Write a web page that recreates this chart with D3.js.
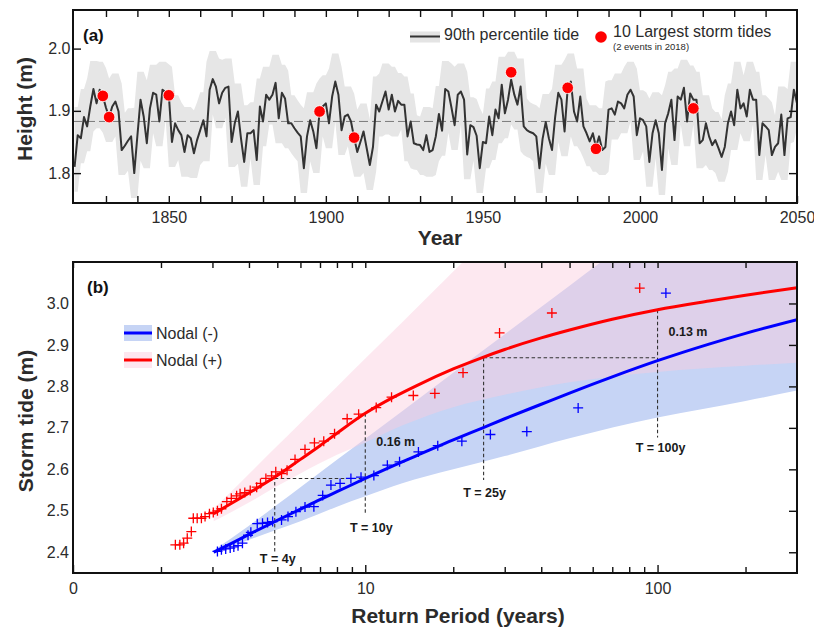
<!DOCTYPE html>
<html>
<head>
<meta charset="utf-8">
<script src="https://cdn.jsdelivr.net/npm/d3@7"></script>
<style>
  body { margin: 0; background: #fff; }
  svg { display: block; font-family: "Liberation Sans", Arial, sans-serif; }
</style>
</head>
<body>
<svg id="chart" width="814" height="629"></svg>
<script>
// ---------- panel (a): 90th percentile tide, one value per year from 1820 to 2050
const tideFirstYear = 1820;
const tide90 = [
  1.810, 1.861, 1.856, 1.890, 1.875, 1.907, 1.935, 1.912, 1.934, 1.924,
  1.905, 1.890, 1.907, 1.915, 1.899, 1.837, 1.844, 1.852, 1.859, 1.800,
  1.860, 1.918, 1.891, 1.848, 1.904, 1.929, 1.926, 1.883, 1.934, 1.930,
  1.926, 1.850, 1.880, 1.869, 1.861, 1.834, 1.861, 1.856, 1.832, 1.853,
  1.869, 1.885, 1.859, 1.934, 1.951, 1.939, 1.912, 1.929, 1.937, 1.939,
  1.850, 1.880, 1.899, 1.855, 1.818, 1.864, 1.864, 1.869, 1.821, 1.907,
  1.883, 1.926, 1.918, 1.926, 1.945, 1.888, 1.929, 1.920, 1.880, 1.880,
  1.872, 1.865, 1.859, 1.808, 1.859, 1.885, 1.867, 1.840, 1.899, 1.907,
  1.912, 1.880, 1.923, 1.947, 1.926, 1.869, 1.891, 1.894, 1.883, 1.857,
  1.834, 1.850, 1.867, 1.840, 1.813, 1.842, 1.910, 1.899, 1.915, 1.931,
  1.902, 1.926, 1.899, 1.916, 1.910, 1.910, 1.859, 1.883, 1.848, 1.846,
  1.845, 1.837, 1.861, 1.834, 1.837, 1.859, 1.895, 1.868, 1.935, 1.931,
  1.905, 1.877, 1.926, 1.931, 1.918, 1.830, 1.877, 1.874, 1.860, 1.808,
  1.850, 1.848, 1.891, 1.861, 1.902, 1.888, 1.942, 1.896, 1.918, 1.950,
  1.926, 1.910, 1.939, 1.875, 1.869, 1.866, 1.864, 1.859, 1.808, 1.855,
  1.882, 1.856, 1.837, 1.890, 1.929, 1.918, 1.867, 1.937, 1.947, 1.899,
  1.883, 1.923, 1.875, 1.864, 1.851, 1.864, 1.842, 1.859, 1.837, 1.842,
  1.902, 1.904, 1.894, 1.915, 1.912, 1.904, 1.926, 1.934, 1.923, 1.861,
  1.888, 1.885, 1.875, 1.818, 1.864, 1.885, 1.864, 1.805, 1.880, 1.896,
  1.918, 1.853, 1.923, 1.918, 1.937, 1.883, 1.928, 1.918, 1.918, 1.848,
  1.853, 1.880, 1.859, 1.845, 1.853, 1.840, 1.826, 1.842, 1.880, 1.899,
  1.877, 1.934, 1.904, 1.912, 1.891, 1.934, 1.918, 1.918, 1.829, 1.880,
  1.875, 1.869, 1.829, 1.842, 1.848, 1.894, 1.829, 1.888, 1.890, 1.934,
  1.912
];
// grey envelope around the tide line
const tideUpper = [
  1.906, 1.906, 1.935, 1.935, 1.952, 1.980, 1.980, 1.980, 1.979, 1.979,
  1.969, 1.952, 1.960, 1.960, 1.960, 1.944, 1.897, 1.904, 1.904, 1.905,
  1.963, 1.963, 1.963, 1.949, 1.974, 1.974, 1.974, 1.979, 1.979, 1.979,
  1.975, 1.971, 1.925, 1.925, 1.914, 1.906, 1.906, 1.906, 1.901, 1.914,
  1.930, 1.930, 1.979, 1.996, 1.996, 1.996, 1.984, 1.982, 1.984, 1.984,
  1.984, 1.944, 1.944, 1.944, 1.909, 1.909, 1.914, 1.914, 1.952, 1.952,
  1.971, 1.971, 1.971, 1.990, 1.990, 1.990, 1.974, 1.974, 1.965, 1.925,
  1.925, 1.917, 1.910, 1.904, 1.930, 1.930, 1.930, 1.944, 1.952, 1.957,
  1.957, 1.968, 1.992, 1.992, 1.992, 1.971, 1.939, 1.939, 1.939, 1.928,
  1.902, 1.912, 1.912, 1.912, 1.887, 1.955, 1.955, 1.960, 1.976, 1.976,
  1.976, 1.971, 1.971, 1.961, 1.961, 1.955, 1.955, 1.928, 1.928, 1.893,
  1.891, 1.906, 1.906, 1.906, 1.904, 1.940, 1.940, 1.980, 1.980, 1.980,
  1.976, 1.971, 1.976, 1.976, 1.976, 1.963, 1.922, 1.922, 1.919, 1.905,
  1.895, 1.936, 1.936, 1.947, 1.947, 1.987, 1.987, 1.987, 1.995, 1.995,
  1.995, 1.984, 1.984, 1.984, 1.920, 1.914, 1.911, 1.909, 1.904, 1.927,
  1.927, 1.927, 1.935, 1.974, 1.974, 1.974, 1.982, 1.992, 1.992, 1.992,
  1.968, 1.968, 1.968, 1.920, 1.909, 1.909, 1.909, 1.904, 1.904, 1.947,
  1.949, 1.949, 1.960, 1.960, 1.960, 1.971, 1.979, 1.979, 1.979, 1.968,
  1.933, 1.933, 1.930, 1.920, 1.930, 1.930, 1.930, 1.925, 1.941, 1.963,
  1.963, 1.968, 1.968, 1.982, 1.982, 1.982, 1.973, 1.973, 1.963, 1.963,
  1.925, 1.925, 1.925, 1.904, 1.898, 1.898, 1.887, 1.925, 1.944, 1.944,
  1.979, 1.979, 1.979, 1.957, 1.979, 1.979, 1.979, 1.963, 1.963, 1.925,
  1.925, 1.920, 1.914, 1.893, 1.939, 1.939, 1.939, 1.935, 1.979, 1.979,
  1.979
];
const tideLower = [
  1.770, 1.770, 1.816, 1.816, 1.835, 1.835, 1.867, 1.872, 1.872, 1.865,
  1.850, 1.850, 1.850, 1.859, 1.797, 1.797, 1.797, 1.804, 1.760, 1.760,
  1.760, 1.820, 1.808, 1.808, 1.808, 1.864, 1.843, 1.843, 1.843, 1.886,
  1.810, 1.810, 1.810, 1.821, 1.794, 1.794, 1.794, 1.792, 1.792, 1.792,
  1.813, 1.819, 1.819, 1.819, 1.894, 1.872, 1.872, 1.872, 1.889, 1.810,
  1.810, 1.810, 1.815, 1.778, 1.778, 1.778, 1.824, 1.781, 1.781, 1.781,
  1.843, 1.843, 1.878, 1.878, 1.848, 1.848, 1.848, 1.840, 1.840, 1.832,
  1.825, 1.819, 1.768, 1.768, 1.768, 1.819, 1.800, 1.800, 1.800, 1.859,
  1.840, 1.840, 1.840, 1.883, 1.829, 1.829, 1.829, 1.843, 1.817, 1.794,
  1.794, 1.794, 1.800, 1.773, 1.773, 1.773, 1.802, 1.859, 1.859, 1.862,
  1.862, 1.859, 1.859, 1.859, 1.870, 1.819, 1.819, 1.808, 1.806, 1.805,
  1.797, 1.797, 1.794, 1.794, 1.794, 1.797, 1.819, 1.828, 1.828, 1.865,
  1.837, 1.837, 1.837, 1.878, 1.790, 1.790, 1.790, 1.820, 1.768, 1.768,
  1.768, 1.808, 1.808, 1.821, 1.821, 1.848, 1.848, 1.856, 1.856, 1.878,
  1.870, 1.870, 1.835, 1.829, 1.826, 1.824, 1.819, 1.768, 1.768, 1.768,
  1.815, 1.797, 1.797, 1.797, 1.850, 1.827, 1.827, 1.827, 1.859, 1.843,
  1.843, 1.835, 1.824, 1.811, 1.811, 1.802, 1.802, 1.797, 1.797, 1.797,
  1.802, 1.854, 1.854, 1.854, 1.864, 1.864, 1.864, 1.883, 1.821, 1.821,
  1.821, 1.835, 1.778, 1.778, 1.778, 1.824, 1.765, 1.765, 1.765, 1.840,
  1.813, 1.813, 1.813, 1.878, 1.843, 1.843, 1.843, 1.878, 1.808, 1.808,
  1.808, 1.813, 1.805, 1.805, 1.800, 1.786, 1.786, 1.786, 1.802, 1.837,
  1.837, 1.837, 1.864, 1.851, 1.851, 1.851, 1.878, 1.789, 1.789, 1.789,
  1.829, 1.789, 1.789, 1.789, 1.802, 1.789, 1.789, 1.789, 1.848, 1.850,
  1.872
];
const tideMean = 1.883;
const stormYears = [1829, 1831, 1850, 1898, 1909, 1959, 1977, 1986, 2017];
const stormHeights = [1.924, 1.890, 1.925, 1.899, 1.857, 1.962, 1.937, 1.839, 1.904];
const yearTicks = [1850, 1900, 1950, 2000, 2050];
const yearMinorTicks = [1830, 1840, 1850, 1860, 1870, 1880, 1890, 1900, 1910, 1920, 1930,
  1940, 1950, 1960, 1970, 1980, 1990, 2000, 2010, 2020, 2030, 2040];
const heightTicks = [1.8, 1.9, 2.0];

// ---------- panel (b): return periods
const fitPeriods = [3.03, 3.5, 4, 5, 6, 7, 8, 10, 12.5, 15, 20, 25, 30, 40, 50, 70, 100, 150, 200, 300];
const fitPlus = [2.493, 2.519, 2.543, 2.585, 2.624, 2.657, 2.687, 2.735, 2.774, 2.802, 2.842, 2.869,
  2.889, 2.917, 2.936, 2.962, 2.985, 3.006, 3.020, 3.038];
const fitMinus = [2.400, 2.422, 2.443, 2.477, 2.504, 2.527, 2.546, 2.578, 2.609, 2.633, 2.671, 2.699,
  2.722, 2.757, 2.784, 2.823, 2.862, 2.902, 2.928, 2.961];

const bandPeriods = [3.03, 4, 5, 6, 8, 10, 13.3, 20, 30, 50, 100, 200, 300];
const plusHigh = [2.505, 2.589, 2.657, 2.712, 2.799, 2.867, 2.953, 3.077, 3.20, 3.36, 3.57, 3.78, 3.90];
const plusLow = [2.475, 2.520, 2.560, 2.590, 2.635, 2.665, 2.705, 2.750, 2.780, 2.810, 2.835, 2.850, 2.857];
const minusHigh = [2.405, 2.464, 2.515, 2.557, 2.623, 2.674, 2.739, 2.833, 2.926, 3.043, 3.202, 3.36, 3.45];
const minusLow = [2.397, 2.430, 2.455, 2.475, 2.510, 2.535, 2.566, 2.600, 2.632, 2.675, 2.725, 2.765, 2.790];

const plusPeriods = [2.24, 2.32, 2.39, 2.46, 2.54, 2.58, 2.66, 2.75, 2.83, 2.93, 3.02, 3.12, 3.22, 3.36,
  3.48, 3.63, 3.73, 3.87, 4.04, 4.25, 4.38, 4.57, 4.78, 4.94, 5.17, 5.40, 5.75, 6.22, 6.70, 7.21, 7.85,
  8.67, 9.49, 10.9, 12.3, 14.6, 17.3, 21.6, 28.8, 43.5, 86.9];
const plusTides = [2.418, 2.418, 2.422, 2.434, 2.450, 2.482, 2.482, 2.482, 2.486, 2.493, 2.496, 2.500,
  2.505, 2.522, 2.530, 2.536, 2.541, 2.544, 2.549, 2.557, 2.566, 2.578, 2.584, 2.594, 2.590, 2.598,
  2.624, 2.648, 2.664, 2.668, 2.686, 2.722, 2.733, 2.749, 2.774, 2.778, 2.783, 2.833, 2.929, 2.977, 3.037];
const minusPeriods = [3.12, 3.22, 3.33, 3.45, 3.55, 3.67, 3.80, 3.97, 4.06, 4.27, 4.45, 4.63, 4.82, 5.17,
  5.44, 5.79, 6.22, 6.67, 7.15, 7.63, 8.20, 8.93, 9.67, 10.7, 11.9, 13.1, 15.2, 17.7, 21.4, 26.8, 35.7,
  53.5, 106.8];
const minusTides = [2.402, 2.406, 2.408, 2.410, 2.413, 2.416, 2.422, 2.441, 2.448, 2.469, 2.470, 2.472,
  2.474, 2.478, 2.486, 2.498, 2.509, 2.510, 2.537, 2.562, 2.566, 2.578, 2.581, 2.585, 2.610, 2.618,
  2.642, 2.657, 2.668, 2.684, 2.691, 2.748, 3.025];

const periodTicks = [1, 10, 100];
const periodTickLabels = ["0", "10", "100"];
const periodMinorTicks = [2, 3, 4, 5, 6, 7, 8, 9, 20, 30, 40, 50, 60, 70, 80, 90, 200];
const stormTideTicks = [2.4, 2.5, 2.6, 2.7, 2.8, 2.9, 3.0];

// dashed guides: [T1, v1, T2, v2]
const guides = [
  [4.9, 2.402, 4.9, 2.578], [4.9, 2.578, 10, 2.578], [10, 2.735, 10, 2.490],
  [25.4, 2.869, 100, 2.869], [25.4, 2.869, 25.4, 2.574], [100, 2.985, 100, 2.677]
];
// annotation text: [label, T, v, anchor, dx]
const notes = [
  ["T = 4y", 4.9, 2.375, "middle", 3], ["T = 10y", 10, 2.45, "middle", 6],
  ["T = 25y", 25.4, 2.534, "middle", 1], ["T = 100y", 100, 2.641, "middle", 3],
  ["0.16 m", 10, 2.656, "start", 11], ["0.13 m", 100, 2.922, "start", 11]
];

const colors = { plus: "#ff0000", minus: "#0000ff", text: "#2b2b2b" };

const svg = d3.select("#chart");
const left = 73, right = 797;

// ====== panel (a)
const aTop = 10, aBottom = 203;
const xa = d3.scaleLinear().domain([1819.5, 2050]).range([left, right]);
const ya = d3.scaleLinear().domain([1.752, 2.062]).range([aBottom, aTop]);
const ga = svg.append("g");

svg.append("clipPath").attr("id", "clipA")
  .append("rect").attr("x", left).attr("y", aTop).attr("width", right - left).attr("height", aBottom - aTop);

const tideRows = tide90.map((v, i) => ({ year: tideFirstYear + i, v, hi: tideUpper[i], lo: tideLower[i] }));
const plotA = ga.append("g").attr("clip-path", "url(#clipA)");

plotA.append("path").datum(tideRows)
  .attr("fill", "#e6e6e6")
  .attr("d", d3.area().x(d => xa(d.year)).y0(d => ya(d.lo)).y1(d => ya(d.hi)));

plotA.append("line")
  .attr("x1", left).attr("x2", right).attr("y1", ya(tideMean)).attr("y2", ya(tideMean))
  .attr("stroke", "#7a7a7a").attr("stroke-width", 1).attr("stroke-dasharray", "9,4");

plotA.append("path").datum(tideRows)
  .attr("fill", "none").attr("stroke", "#333").attr("stroke-width", 2).attr("stroke-linejoin", "round")
  .attr("d", d3.line().x(d => xa(d.year)).y(d => ya(d.v)));

plotA.selectAll("circle.storm").data(stormYears).join("circle")
  .attr("class", "storm")
  .attr("cx", d => xa(d)).attr("cy", (d, i) => ya(stormHeights[i])).attr("r", 5.8)
  .attr("fill", colors.plus).attr("stroke", "#fff").attr("stroke-width", 0.8);

// axes, ticks inward on all four sides
const styleAxis = (g) => {
  g.select(".domain").remove();
  g.selectAll(".tick line").attr("stroke", "#111").attr("stroke-width", 1.4);
  g.selectAll(".tick text").attr("fill", colors.text).style("font-size", "16px");
};
ga.append("g").attr("transform", `translate(0,${aBottom})`)
  .call(d3.axisBottom(xa).tickValues(yearMinorTicks.concat([2050])).tickSize(-7).tickPadding(8.5)
    .tickFormat(d => yearTicks.includes(d) ? d : ""))
  .call(styleAxis);
ga.append("g").attr("transform", `translate(0,${aTop})`)
  .call(d3.axisTop(xa).tickValues(yearMinorTicks).tickSize(-7).tickFormat(""))
  .call(styleAxis);
ga.append("g").attr("transform", `translate(${left},0)`)
  .call(d3.axisLeft(ya).tickValues(heightTicks).tickSize(-8).tickPadding(2.5).tickFormat(d3.format(".1f")))
  .call(styleAxis);
ga.append("g").attr("transform", `translate(${right},0)`)
  .call(d3.axisRight(ya).tickValues(heightTicks).tickSize(-8).tickFormat(""))
  .call(styleAxis);

ga.append("rect").attr("x", left).attr("y", aTop).attr("width", right - left).attr("height", aBottom - aTop)
  .attr("fill", "none").attr("stroke", "#111").attr("stroke-width", 2);

ga.append("text").attr("x", 83).attr("y", 41).text("(a)")
  .attr("font-weight", "bold").style("font-size", "17px").attr("fill", "#111");

ga.append("text").attr("x", 440).attr("y", 245).attr("text-anchor", "middle").text("Year")
  .attr("font-weight", "bold").style("font-size", "21px").attr("fill", colors.text);
ga.append("text").attr("transform", "translate(32,109) rotate(-90)").attr("text-anchor", "middle")
  .text("Height (m)").attr("font-weight", "bold").style("font-size", "21px").attr("fill", colors.text);

// legend (a)
const legA = ga.append("g");
legA.append("rect").attr("x", 410).attr("y", 31.5).attr("width", 30).attr("height", 11).attr("fill", "#e4e4e4");
legA.append("line").attr("x1", 410).attr("x2", 440).attr("y1", 36.5).attr("y2", 36.5)
  .attr("stroke", "#333").attr("stroke-width", 2);
legA.append("text").attr("x", 444).attr("y", 40).text("90th percentile tide")
  .style("font-size", "16px").attr("fill", colors.text);
legA.append("circle").attr("cx", 601).attr("cy", 37).attr("r", 5.8).attr("fill", colors.plus);
legA.append("text").attr("x", 613).attr("y", 36.5).text("10 Largest storm tides")
  .style("font-size", "16px").attr("fill", colors.text);
legA.append("text").attr("x", 613).attr("y", 50).text("(2 events in 2018)")
  .style("font-size", "9.5px").attr("fill", colors.text);

// ====== panel (b)
const bTop = 262, bBottom = 573;
const xb = d3.scaleLog().domain([1, 300]).range([left, right]);
const yb = d3.scaleLinear().domain([2.35, 3.1]).range([bBottom, bTop]);
const gb = svg.append("g");

svg.append("clipPath").attr("id", "clipB")
  .append("rect").attr("x", left).attr("y", bTop).attr("width", right - left).attr("height", bBottom - bTop);
const plotB = gb.append("g").attr("clip-path", "url(#clipB)");

const bandRows = bandPeriods.map((t, i) => ({ t, ph: plusHigh[i], pl: plusLow[i], mh: minusHigh[i], ml: minusLow[i] }));
plotB.append("path").datum(bandRows)
  .attr("fill", "#c6d4f5")
  .attr("d", d3.area().curve(d3.curveMonotoneX).x(d => xb(d.t)).y0(d => yb(d.ml)).y1(d => yb(d.mh)));
plotB.append("path").datum(bandRows)
  .attr("fill", "#facbde").attr("fill-opacity", 0.45)
  .attr("d", d3.area().curve(d3.curveMonotoneX).x(d => xb(d.t)).y0(d => yb(d.pl)).y1(d => yb(d.ph)));

plotB.selectAll("line.guide").data(guides).join("line")
  .attr("class", "guide")
  .attr("x1", d => xb(d[0])).attr("y1", d => yb(d[1])).attr("x2", d => xb(d[2])).attr("y2", d => yb(d[3]))
  .attr("stroke", "#333").attr("stroke-width", 1.1).attr("stroke-dasharray", "3.5,2.5");

const fitLine = (vals) => d3.line().curve(d3.curveMonotoneX)
  .x((t) => xb(t)).y((t, i) => yb(vals[i]));
plotB.append("path").datum(fitPeriods).attr("fill", "none").attr("stroke", colors.minus)
  .attr("stroke-width", 3).attr("d", fitLine(fitMinus));
plotB.append("path").datum(fitPeriods).attr("fill", "none").attr("stroke", colors.plus)
  .attr("stroke-width", 3).attr("d", fitLine(fitPlus));

const cross = "M-5,0H5M0,-5V5";
plotB.selectAll("path.plus").data(plusPeriods).join("path").attr("class", "plus")
  .attr("transform", (d, i) => `translate(${xb(d)},${yb(plusTides[i])})`)
  .attr("d", cross).attr("stroke", colors.plus).attr("stroke-width", 1.3);
plotB.selectAll("path.minus").data(minusPeriods).join("path").attr("class", "minus")
  .attr("transform", (d, i) => `translate(${xb(d)},${yb(minusTides[i])})`)
  .attr("d", cross).attr("stroke", colors.minus).attr("stroke-width", 1.3);

gb.selectAll("text.note").data(notes).join("text").attr("class", "note")
  .attr("x", d => xb(d[1]) + d[4]).attr("y", d => yb(d[2]))
  .attr("text-anchor", d => d[3]).text(d => d[0])
  .attr("font-weight", "bold").style("font-size", "12.5px").attr("fill", "#1a1a1a");

gb.append("g").attr("transform", `translate(0,${bBottom})`)
  .call(d3.axisBottom(xb).tickValues(periodTicks).tickSize(-8).tickPadding(10)
    .tickFormat((d, i) => periodTickLabels[i]))
  .call(styleAxis);
gb.append("g").attr("transform", `translate(0,${bBottom})`)
  .call(d3.axisBottom(xb).tickValues(periodMinorTicks).tickSize(-6).tickFormat(""))
  .call(styleAxis);
gb.append("g").attr("transform", `translate(0,${bTop})`)
  .call(d3.axisTop(xb).tickValues(periodMinorTicks.concat(periodTicks)).tickSize(-6).tickFormat(""))
  .call(styleAxis);
gb.append("g").attr("transform", `translate(${left},0)`)
  .call(d3.axisLeft(yb).tickValues(stormTideTicks).tickSize(0).tickPadding(4).tickFormat(d3.format(".1f")))
  .call(styleAxis);
gb.append("g").attr("transform", `translate(${right},0)`)
  .call(d3.axisRight(yb).tickValues(stormTideTicks).tickSize(-8).tickFormat(""))
  .call(styleAxis);

gb.append("rect").attr("x", left).attr("y", bTop).attr("width", right - left).attr("height", bBottom - bTop)
  .attr("fill", "none").attr("stroke", "#111").attr("stroke-width", 2);

gb.append("text").attr("x", 87).attr("y", 293).text("(b)")
  .attr("font-weight", "bold").style("font-size", "17px").attr("fill", "#111");
gb.append("text").attr("x", 458).attr("y", 623).attr("text-anchor", "middle").text("Return Period (years)")
  .attr("font-weight", "bold").style("font-size", "21px").attr("fill", colors.text);
gb.append("text").attr("transform", "translate(33,421) rotate(-90)").attr("text-anchor", "middle")
  .text("Storm tide (m)").attr("font-weight", "bold").style("font-size", "21px").attr("fill", colors.text);

// legend (b)
const legB = gb.append("g");
const legItems = [
  { label: "Nodal (-)", fill: "#c6d4f5", stroke: colors.minus, y: 333 },
  { label: "Nodal (+)", fill: "#fde6ef", stroke: colors.plus, y: 360 }
];
legItems.forEach(d => {
  legB.append("rect").attr("x", 124).attr("y", d.y - 8).attr("width", 28).attr("height", 16).attr("fill", d.fill);
  legB.append("line").attr("x1", 124).attr("x2", 152).attr("y1", d.y).attr("y2", d.y)
    .attr("stroke", d.stroke).attr("stroke-width", 3);
  legB.append("text").attr("x", 156).attr("y", d.y + 6).text(d.label)
    .style("font-size", "16px").attr("fill", colors.text);
});
</script>
</body>
</html>
